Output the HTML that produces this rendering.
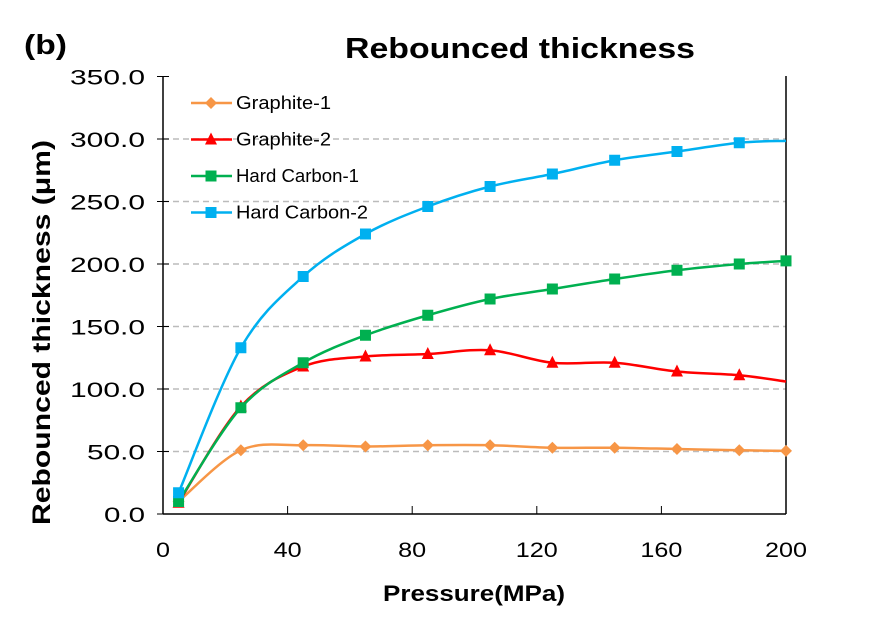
<!DOCTYPE html>
<html><head><meta charset="utf-8"><style>
body{margin:0;background:#fff;}
svg text{font-family:"Liberation Sans","Noto Sans CJK KR",sans-serif;}
</style></head><body>
<svg id="s" width="878" height="619" viewBox="0 0 878 619" xmlns="http://www.w3.org/2000/svg">
<rect width="878" height="619" fill="#fff"/>
<text x="24" y="54" font-size="28" font-weight="bold" textLength="43" lengthAdjust="spacingAndGlyphs">(b)</text>
<text x="345" y="58" font-size="29" font-weight="bold" textLength="350" lengthAdjust="spacingAndGlyphs">Rebounced  thickness</text>
<g id="grid"></g>
<line x1="163" y1="76" x2="163" y2="514" stroke="#000" stroke-width="1.5"/>
<line x1="786" y1="76" x2="786" y2="514" stroke="#000" stroke-width="1.5"/>
<line x1="163" y1="514" x2="786" y2="514" stroke="#000" stroke-width="1.5"/>
<g id="ax" font-size="21"></g>
<text x="383" y="601" font-size="22" font-weight="bold" textLength="182" lengthAdjust="spacingAndGlyphs">Pressure(MPa)</text>
<text transform="translate(50,525) rotate(-90)" font-size="25" font-weight="bold" textLength="385" lengthAdjust="spacingAndGlyphs">Rebounced  thickness (μm)</text>
<g id="series"></g>
<g id="leg" font-size="18.5"></g>
</svg>
<script>
const NS="http://www.w3.org/2000/svg";
function el(t,a,p){const e=document.createElementNS(NS,t);for(const k in a)e.setAttribute(k,a[k]);p.appendChild(e);return e;}
const X=v=>163+v*3.115, Y=v=>514-v*1.25;
const g=document.getElementById('grid'),ax=document.getElementById('ax');
for(let v=50;v<=300;v+=50) el('line',{x1:163,x2:786,y1:Y(v),y2:Y(v),stroke:'#bbb','stroke-width':1.5,'stroke-dasharray':'6,4'},g);
for(let v=0;v<=350;v+=50){el('line',{x1:157,x2:169,y1:Y(v),y2:Y(v),stroke:'#000'},ax);
 const s=v.toFixed(1);const L=(s.length-1)*17+7;
 const t=el('text',{x:145-L,y:Y(v)+8,textLength:L,lengthAdjust:'spacingAndGlyphs'},ax);t.textContent=s;}
for(let v=0;v<=200;v+=40){el('line',{x1:X(v),x2:X(v),y1:514,y2:506,stroke:'#000'},ax);
 const s=String(v),L=s.length*14;
 const t=el('text',{x:X(v)-L/2,y:557,textLength:L,lengthAdjust:'spacingAndGlyphs'},ax);t.textContent=s;}
const xs=[5,25,45,65,85,105,125,145,165,185,200];
const S=[
 {n:'Graphite-1',c:'#F79646',m:'d',d:[10,51,55,54,55,55,53,53,52,51,50.5],last:true},
 {n:'Graphite-2',c:'#FF0000',m:'t',d:[9,86,118,126,128,131,121,121,114,111,106],last:false},
 {n:'Hard Carbon-1',c:'#00B050',m:'s',d:[10,85,121,143,159,172,180,188,195,200,202.5],last:true},
 {n:'Hard Carbon-2',c:'#00B0F0',m:'s',d:[17,133,190,224,246,262,272,283,290,297,298.5],last:false}];
function mk(m,x,y,c,p){
 if(m=='d')el('polygon',{points:`${x},${y-6} ${x+6},${y} ${x},${y+6} ${x-6},${y}`,fill:c},p);
 else if(m=='t')el('polygon',{points:`${x},${y-7} ${x+6},${y+5} ${x-6},${y+5}`,fill:c},p);
 else el('rect',{x:x-5.5,y:y-5.5,width:11,height:11,fill:c},p);}
const sg=document.getElementById('series');
S.forEach(s=>{const P=xs.map((x,i)=>[X(x),Y(s.d[i])]);
 let d=`M${P[0][0]},${P[0][1]}`;
 for(let i=0;i<P.length-1;i++){const p0=P[Math.max(i-1,0)],p1=P[i],p2=P[i+1],p3=P[Math.min(i+2,P.length-1)];
  d+=` C${p1[0]+(p2[0]-p0[0])/6},${p1[1]+(p2[1]-p0[1])/6} ${p2[0]-(p3[0]-p1[0])/6},${p2[1]-(p3[1]-p1[1])/6} ${p2[0]},${p2[1]}`;}
 el('path',{d,fill:'none',stroke:s.c,'stroke-width':2.5},sg);
 P.forEach((p,i)=>{if(i<P.length-1||s.last)mk(s.m,p[0],p[1],s.c,sg);});});
const lg=document.getElementById('leg');
const LL=[95,95,123,132];
S.forEach((s,i)=>{const y=103+i*36.5;
 el('line',{x1:191,x2:232,y1:y,y2:y,stroke:s.c,'stroke-width':2.5},lg);mk(s.m,211,y,s.c,lg);
 const t=el('text',{x:236,y:y+6,textLength:LL[i],lengthAdjust:'spacingAndGlyphs'},lg);t.textContent=s.n;});
</script>
</body></html>
